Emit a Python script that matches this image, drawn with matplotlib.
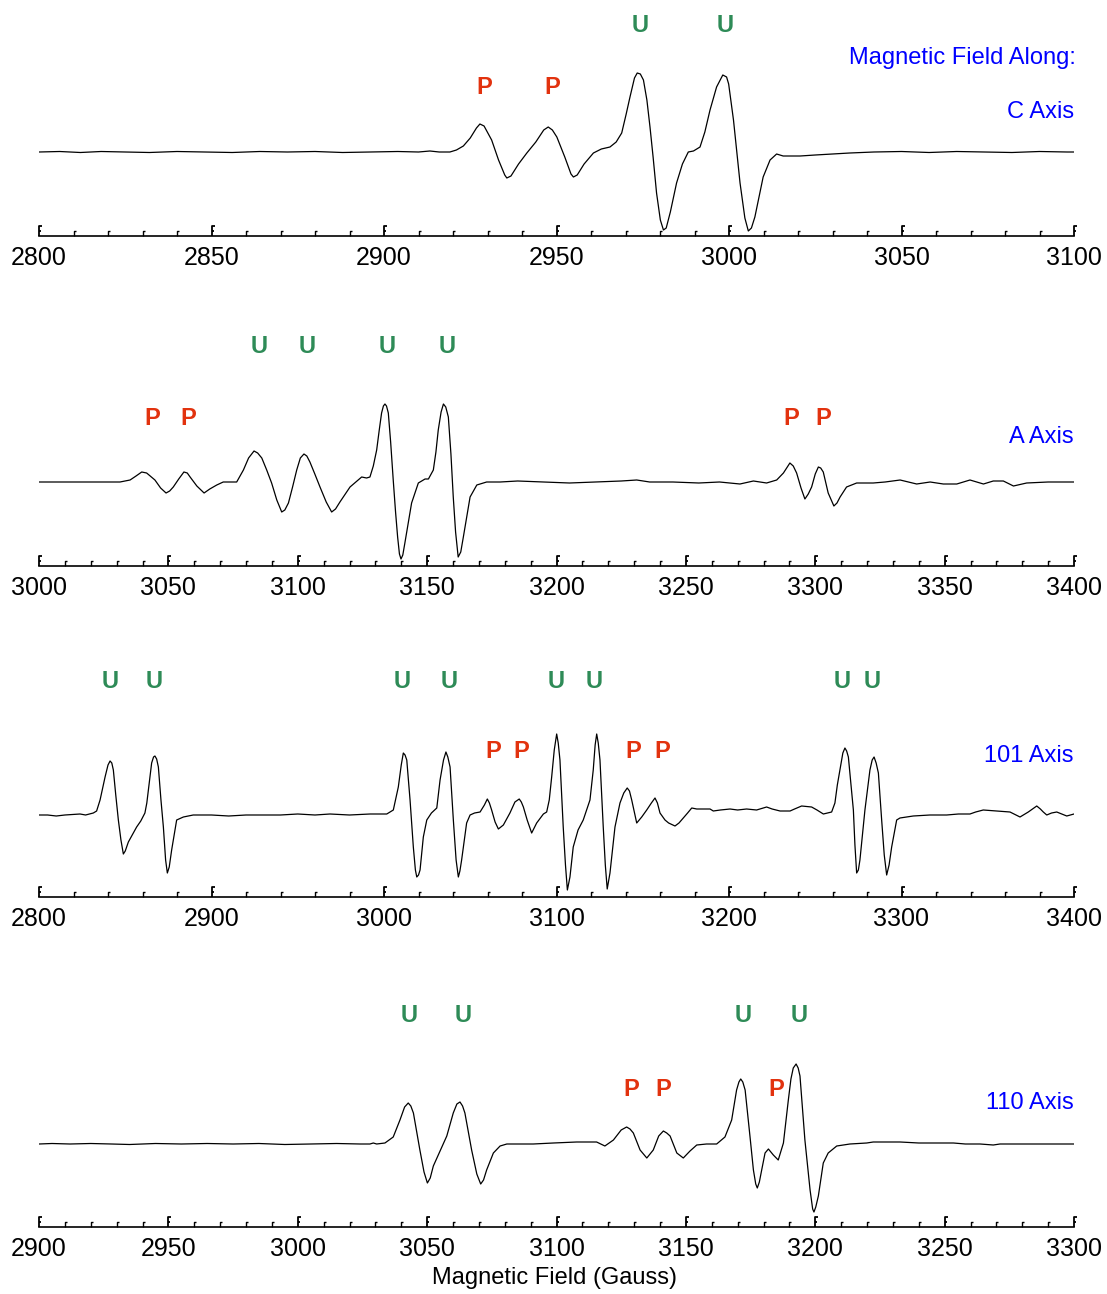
import matplotlib
matplotlib.use("Agg")
import matplotlib.pyplot as plt
from matplotlib.ticker import MultipleLocator
from matplotlib.path import Path
import numpy as np

plt.rcParams['font.family'] = ['Liberation Sans', 'DejaVu Sans']

# ---- spectra: field (G) and derivative intensity (arb. units) ----
c_field = [2800, 2806, 2812, 2818, 2825, 2832, 2840, 2848, 2856, 2864, 2872, 2880, 2888, 2896, 2904, 2910,
           2913.3, 2916, 2919.1, 2921, 2923, 2925, 2926.8, 2927.8, 2929, 2931.2, 2933.2, 2935, 2935.6, 2936.8,
           2939, 2941.4, 2944, 2946.3, 2947.6, 2948.8, 2950.1, 2952.4, 2954.2, 2954.9, 2956, 2958, 2960.7,
           2963, 2965.5, 2967.3, 2968.9, 2970.2, 2971.3, 2972.6, 2973.4, 2974.3, 2975.2, 2976.2, 2977.1, 2978,
           2979, 2980.1, 2981, 2981.8, 2983, 2984.8, 2986.5, 2988.2, 2989.7, 2991.6, 2993, 2994.5, 2996.4,
           2998.2, 2999.3, 2999.9, 3001.3, 3003.2, 3004.6, 3005.6, 3006.5, 3007.5, 3009.9, 3011.9, 3013.8,
           3015.7, 3020.6, 3025, 3030, 3035, 3042, 3050, 3058, 3066, 3074, 3082, 3090, 3098, 3100]
c_signal = [0, 0.5, -0.5, 0.5, 0, -0.5, 0.5, 0, -0.5, 0.5, 0, 0.5, -0.5, 0, 0.5, 0,
            1, 0, 0, 2, 6, 14, 24, 28, 26, 12, -8, -23, -26, -24,
            -12, -1, 10, 22, 25, 22, 15, -5, -22, -25, -23, -12, -1,
            3, 5, 10, 19, 38, 55, 74, 79, 78, 72, 52, 25, -5,
            -41, -68, -78, -76, -60, -31, -12, 0, 1, 5, 20, 42, 65,
            77, 75, 68, 32, -31, -66, -79, -76, -65, -25, -8, -2,
            -4, -4, -3, -2, -1, 0, 0.5, -0.5, 0.5, 0, -0.5, 0.5, 0, 0]

a_field = [3000, 3008, 3016, 3023.6, 3031.3, 3035.2, 3037.5, 3039.7, 3041.6, 3043, 3044.8, 3047, 3049.1,
           3050.5, 3051.9, 3054, 3056, 3057.3, 3058.4, 3061, 3063.8, 3066, 3068.7, 3071.2, 3076.4, 3079, 3081,
           3083.1, 3084.5, 3086.1, 3088, 3089.9, 3091.9, 3093.8, 3095, 3096.4, 3098, 3099.6, 3101, 3102.4,
           3103.5, 3104.7, 3106.6, 3108.6, 3111, 3113.1, 3114.6, 3116.3, 3120.2, 3124.7, 3126.6, 3127.9,
           3129.2, 3130.5, 3131.5, 3132.4, 3133.1, 3133.7, 3134.3, 3135, 3135.9, 3136.9, 3137.8, 3138.6,
           3139.3, 3139.9, 3140.6, 3141.4, 3144, 3146.6, 3149.2, 3150.5, 3152.4, 3153.4, 3154.3, 3155.4,
           3156.3, 3157.2, 3158.2, 3159.2, 3160.1, 3161, 3162, 3163, 3164, 3166.6, 3169.2, 3173, 3178.2,
           3185, 3195, 3205, 3215, 3225, 3231, 3236, 3245, 3255, 3263, 3270.9, 3276.1, 3281.2, 3285.1,
           3287.7, 3290.2, 3291.5, 3292.8, 3294.5, 3296, 3297.3, 3298.6, 3300, 3301.2, 3302.1, 3303.1, 3305,
           3307.2, 3308.4, 3309.6, 3312.1, 3316, 3322.4, 3327, 3332.8, 3339.2, 3344.4, 3349.5, 3354.7,
           3359.8, 3365, 3368.8, 3372.7, 3376.6, 3381.7, 3390, 3400]
a_signal = [0, 0, 0, 0, 0, 2, 6, 10, 9, 6, 2, -6, -11,
            -9, -5, 3, 10, 9, 5, -4, -11, -7, -3, 0, 0, 12, 24,
            31, 29, 24, 12, -1, -18, -30, -28, -21, -5, 12, 24, 28,
            26, 20, 8, -5, -20, -30, -27, -20, -5, 5, 4, 5,
            16, 32, 52, 69, 76, 78, 76, 69, 40, 2, -30, -55,
            -72, -77, -73, -61, -21, -1, 3, 3, 12, 30, 52, 70,
            78, 75, 65, 28, -15, -50, -75, -70, -55, -15, -3, 0, 0,
            1, 0, -1, 0, 1, 2, 0, 0, -1, 0, -2, 1, -1, 2,
            9, 19, 16, 9, -6, -17, -12, -5, 8, 15, 14, 10, -11,
            -24, -21, -15, -5, -1, -1, 0, 2, -2, 0, -2, -2,
            2, -2, 1, 1, -4, -1, 0, 0]

d101_field = [2800, 2805, 2810, 2815, 2823.8, 2827, 2831.5, 2833.4, 2835.4, 2838.3, 2840, 2841.2, 2842.2,
              2843.1, 2844.5, 2846, 2847.5, 2848.9, 2850, 2851.8, 2856.6, 2859, 2861.4, 2862.5, 2863.4,
              2865.3, 2866.4, 2867.2, 2868.2, 2869.2, 2870.7, 2872.1, 2873.4, 2874.4, 2875.5, 2876.9, 2879.8,
              2883.7, 2889.4, 2900, 2910, 2920, 2930, 2940, 2950, 2960, 2968.7, 2980, 2991.9, 3001.6, 3005.4,
              3008.3, 3010, 3011.2, 3012.2, 3013.2, 3015.1, 3017, 3018.2, 3019, 3020, 3020.9, 3022.8, 3024.8,
              3027.5, 3030.6, 3032.5, 3034.5, 3035.9, 3037, 3038.3, 3040.2, 3041.8, 3043.1, 3044, 3045,
              3047.9, 3049.9, 3052.5, 3055.7, 3058.2, 3059.9, 3061.1, 3062.4, 3064.4, 3066.3, 3069.2, 3073,
              3075.9, 3078.4, 3079.6, 3080.8, 3083, 3085.6, 3088.5, 3092.4, 3094.3, 3095.8, 3097.2, 3098.7,
              3100.1, 3101, 3102, 3103.9, 3105.2, 3106.3, 3107.8, 3109.7, 3112.5, 3115.5, 3119.4, 3121.3,
              3122.4, 3123.3, 3124.2, 3125.2, 3127.1, 3128.3, 3129.4, 3131, 3133.9, 3136.8, 3139, 3141,
              3142.3, 3143.6, 3146.5, 3149.4, 3152.3, 3155, 3157.1, 3158.5, 3160, 3162.9, 3165, 3168.7, 3171,
              3173.5, 3176, 3178.4, 3181.3, 3189, 3190.9, 3195, 3200.6, 3205, 3210.2, 3216, 3221.8, 3225,
              3229.6, 3235.4, 3238, 3242.1, 3247.9, 3251, 3254.7, 3259.5, 3261.4, 3262.8, 3264.3, 3266,
              3267.2, 3268.2, 3269.2, 3270.7, 3272.1, 3273, 3274, 3275, 3275.9, 3278.8, 3281.7, 3283, 3284.1,
              3285.3, 3286.6, 3288.5, 3290, 3291.4, 3292.8, 3294.3, 3297.2, 3299.1, 3306.8, 3316.5, 3326.2,
              3333, 3339.7, 3343, 3347.4, 3355.2, 3362.9, 3368.7, 3373.5, 3376, 3378.4, 3380.5, 3382.2,
              3384.2, 3387, 3390, 3395.8, 3400]
d101_signal = [0, 0, -1, 0, 1, 0, 2, 4, 15, 38, 50, 54, 52,
               45, 20, -5, -25, -39, -36, -27, -12, -6, 2, 12, 25,
               52, 58, 59, 56, 48, 15, -12, -45, -58, -52, -35, -5,
               -2, 0, 0, -1, 0, 0, 0, 1, 0, 1, 0, 1, 1, 5,
               28, 50, 62, 60, 55, 15, -32, -55, -62, -60, -55, -22, -5,
               2, 7, 35, 55, 63, 58, 48, -5, -45, -62, -56, -45,
               -8, 0, 2, 3, 10, 16, 12, 5, -7, -14, -10, 2,
               13, 16, 13, 8, -5, -18, -8, 1, 3, 15, 38, 65,
               81, 72, 55, -12, -50, -75, -62, -32, -15, -5, 15, 45,
               70, 81, 72, 55, -12, -50, -74, -58, -12, 12, 22, 27,
               24, 15, -8, -2, 5, 12, 17, 12, 2, -5, -8, -11, -8,
               -3, 2, 7, 6, 6, 4, 5, 6, 5, 6, 5, 8, 6,
               4, 4, 6, 9, 8, 5, 1, 3, 12, 30, 45, 62,
               67, 64, 58, 30, 5, -30, -58, -55, -45, 5, 45, 55, 58,
               52, 42, -5, -40, -60, -50, -32, -5, -3, -1, 0, 0,
               1, 1, 3, 5, 4, 3, -2, 3, 6, 9, 6, 3,
               0, 2, 3, -1, 1]

d110_field = [2900, 2905, 2912, 2920, 2928, 2935, 2945, 2955, 2965, 2975, 2985, 2995, 3005, 3015, 3024.1,
              3027.9, 3029.2, 3030.5, 3033.7, 3036.9, 3039.5, 3041.3, 3042.7, 3043.7, 3044.7, 3047.2, 3048.8,
              3050.1, 3051.2, 3052.4, 3055, 3057.6, 3060.1, 3061.5, 3062.7, 3063.7, 3064.6, 3067.2, 3069.2,
              3070.7, 3071.8, 3073, 3075.6, 3078.2, 3080.8, 3091, 3098.8, 3107.8, 3115.5, 3118.7, 3122, 3125,
              3127.1, 3128.4, 3129.7, 3132.3, 3134.9, 3137.4, 3139.5, 3141.3, 3142.6, 3143.9, 3146.5, 3149,
              3151.6, 3154.2, 3158, 3161.9, 3165.1, 3167.7, 3169.6, 3170.5, 3171.2, 3172, 3172.9, 3174.8,
              3176.1, 3177, 3177.6, 3178.4, 3179.3, 3180.6, 3181.9, 3183.8, 3185.7, 3187.7, 3189.6, 3190.6,
              3191.5, 3192.6, 3193.4, 3194.1, 3196, 3198, 3199, 3199.5, 3200.2, 3201.2, 3203.1, 3205, 3208.3,
              3213.4, 3219.9, 3222.4, 3232.8, 3240, 3245.6, 3253.4, 3258, 3263.7, 3268.8, 3271.4, 3284.3,
              3299.1, 3300]
d110_signal = [0, 0.5, 0, 0.5, 0, -0.5, 0.5, 0, 0.5, 0, 0.5, -0.5, 0, 0.5, 0,
               0, 1, 0, 1, 7, 24, 37, 41, 38, 31, -6, -28,
               -39, -34, -22, -7, 8, 31, 40, 42, 38, 31, -6, -30,
               -40, -36, -26, -9, -2, 0, 0, 1, 2, 2, -2, 4, 14,
               17, 15, 11, -6, -14, -6, 8, 13, 11, 8, -9, -14,
               -7, -1, 0, 0, 7, 24, 54, 62, 65, 62, 54, 7,
               -26, -40, -44, -38, -26, -9, -5, -11, -16, 1, 44, 65,
               76, 80, 76, 68, 4, -46, -65, -68, -63, -52, -19, -9, -2,
               0, 1, 2, 2, 1, 1, 1, 0, 0, -1, 0, 0,
               0, 0]

# ---- peak markers ----
c_u = [2974.2, 2998.8]
c_p = [2929.0, 2948.7]
a_u = [3085.0, 3103.6, 3134.5, 3157.7]
a_p = [3043.7, 3057.6, 3290.6, 3303.0]
d101_u = [2841.2, 2866.7, 3010.4, 3037.7, 3099.7, 3121.7, 3265.5, 3282.9]
d101_p = [3063.2, 3079.4, 3144.3, 3161.2]
d110_u = [3043.0, 3063.9, 3172.1, 3193.7]
d110_p = [3128.8, 3141.2, 3184.8]

panel_names = ["C Axis", "A Axis", "101 Axis", "110 Axis"]
x_ranges = [(2800, 3100), (3000, 3400), (2800, 3400), (2900, 3300)]
minor_steps = [10, 10, 20, 10]
major_steps = [50, 50, 100, 50]

GREEN = "#2E8B57"
RED = "#E2320E"
BLUE = "#0000FF"

# flagged tick glyphs: upright stroke with short flags to the right
MM, LL = Path.MOVETO, Path.LINETO
major_tick = Path([(0, 0), (0, 10), (2.6, 10), (0, 5.5), (2.2, 5.5)], [MM, LL, LL, MM, LL])
minor_tick = Path([(0, 0), (0, 5), (2.2, 5)], [MM, LL, LL])

W, H = 1107, 1294
fig = plt.figure(figsize=(W / 100, H / 100), dpi=100)

# axes frames in pixels: (axis line y, top y), y-limits in signal units
frames = [(236, 0, (-84, 152)), (566, 330, (-84, 152)), (897, 660, (-82, 155)), (1227, 990, (-83, 154))]
series = [(c_field, c_signal), (a_field, a_signal), (d101_field, d101_signal), (d110_field, d110_signal)]
u_marks = [(c_u, 127), (a_u, 135), (d101_u, 134), (d110_u, 129)]
p_marks = [(c_p, 65), (a_p, 63), (d101_p, 64), (d110_p, 55)]
name_y = [40, 45, 59, 41]

for i in range(4):
    axis_y, top_y, ylim = frames[i]
    ax = fig.add_axes([39 / W, 1 - axis_y / H, 1035 / W, (axis_y - top_y) / H])
    f, s = series[i]
    ax.plot(f, s, color="black", lw=0.9)
    ax.set_xlim(*x_ranges[i])
    ax.set_ylim(*ylim)
    for side in ("top", "left", "right"):
        ax.spines[side].set_visible(False)
    ax.spines["bottom"].set_linewidth(1.2)
    ax.set_yticks([])
    ax.xaxis.set_major_locator(MultipleLocator(major_steps[i]))
    ax.xaxis.set_minor_locator(MultipleLocator(minor_steps[i]))
    ax.tick_params(axis="x", which="both", direction="in", length=0, labelsize=18, pad=7.5)
    ax.patch.set_alpha(0)

    lo, hi = x_ranges[i]
    majors = [t for t in ax.xaxis.get_majorticklocs() if lo <= t <= hi]
    minors = [t for t in ax.xaxis.get_minorticklocs()
              if lo <= t <= hi and not np.any(np.isclose(t, majors))]
    ax.plot(majors, [ylim[0]] * len(majors), linestyle="none", marker=major_tick,
            markersize=14.4, mew=1.3, mec="black", mfc="none", clip_on=False)
    ax.plot(minors, [ylim[0]] * len(minors), linestyle="none", marker=minor_tick,
            markersize=7.2, mew=1.0, mec="black", mfc="none", clip_on=False)

    us, uy = u_marks[i]
    for x in us:
        ax.text(x, uy, "U", color=GREEN, fontsize=17, fontweight="bold",
                ha="center", va="center", clip_on=False)
    ps, py = p_marks[i]
    for x in ps:
        ax.text(x, py, "P", color=RED, fontsize=17, fontweight="bold",
                ha="center", va="center", clip_on=False)
    ax.text(1.0, name_y[i], panel_names[i], color=BLUE, fontsize=17,
            ha="right", va="center", transform=ax.get_yaxis_transform(), clip_on=False)

fig.text(1076 / W, 1 - 58 / H, "Magnetic Field Along:", color=BLUE, fontsize=17,
         ha="right", va="center")
fig.text(555 / W, 1 - 1278 / H, "Magnetic Field (Gauss)", color="black", fontsize=17,
         ha="center", va="center")

fig.savefig("out.png", dpi=100)
